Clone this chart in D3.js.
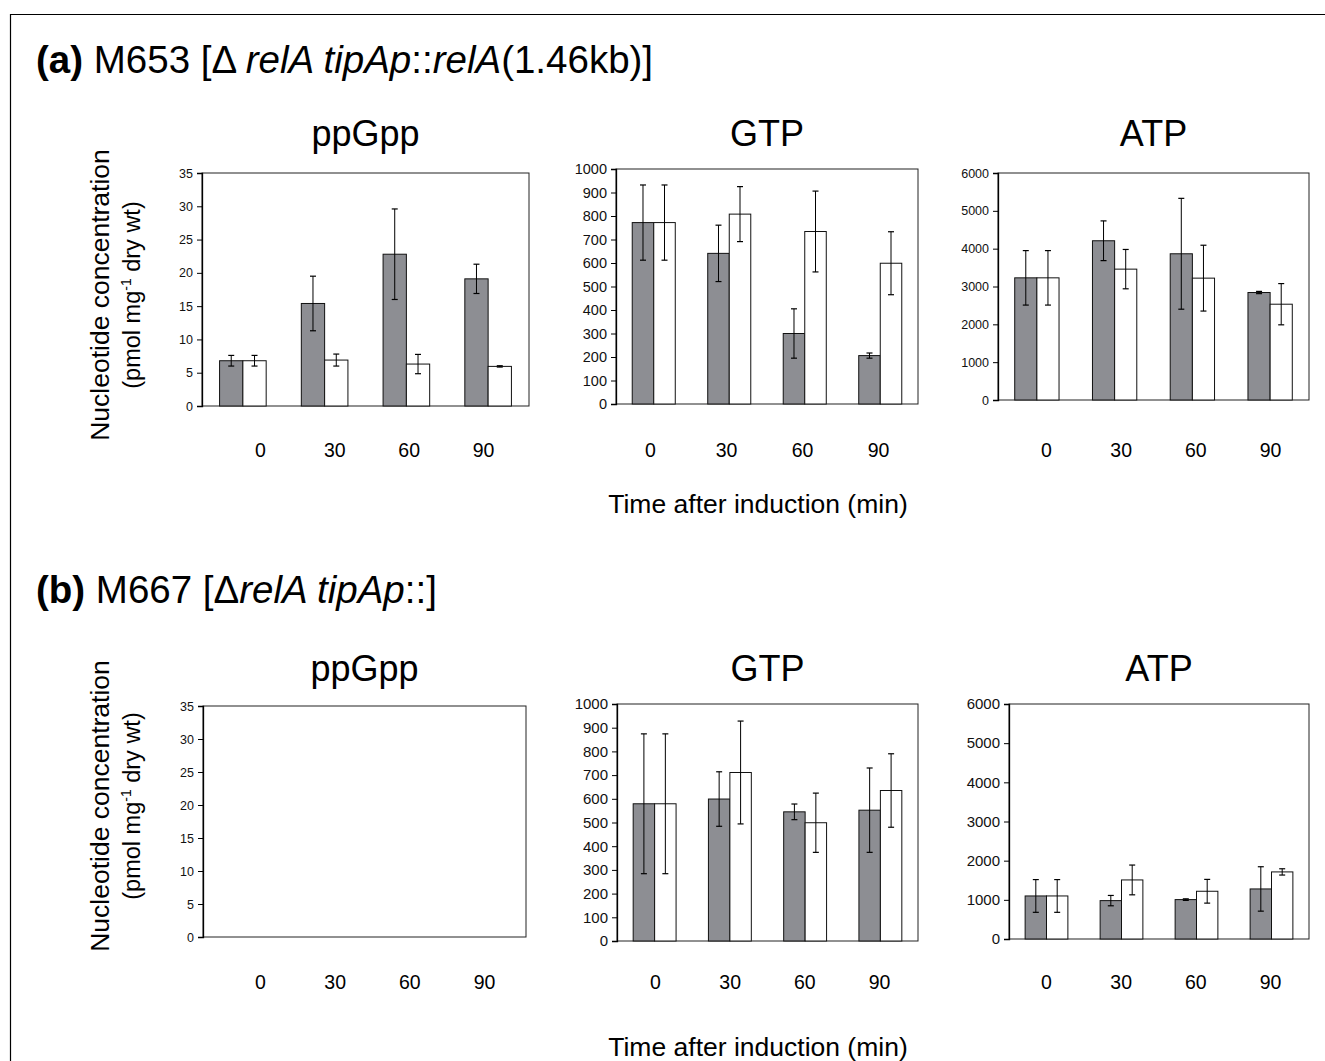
<!DOCTYPE html>
<html>
<head>
<meta charset="utf-8">
<script src="https://cdn.jsdelivr.net/npm/d3@7"></script>
<style>
  body { margin: 0; background: #fff; }
  svg { display: block; font-family: "Liberation Sans", Arial, sans-serif; }
</style>
</head>
<body>
<svg id="chart" width="1325" height="1061"></svg>
<script>
// time points (min)
const times = ['0', '30', '60', '90']

// (a) M653 - induced (grey) / control (white), with error bars
const ppGppA_induced = [6.8, 15.4, 22.8, 19.1]
const ppGppA_inducedErr = [0.8, 4.1, 6.8, 2.2]
const ppGppA_control = [6.8, 6.9, 6.3, 5.95]
const ppGppA_controlErr = [0.8, 0.9, 1.45, 0.1]

const gtpA_induced = [772, 641, 300, 206]
const gtpA_inducedErr = [160, 120, 105, 11]
const gtpA_control = [772, 808, 734, 599]
const gtpA_controlErr = [160, 117, 172, 134]

const atpA_induced = [3229, 4209, 3865, 2841]
const atpA_inducedErr = [720, 525, 1465, 30]
const atpA_control = [3229, 3459, 3221, 2532]
const atpA_controlErr = [720, 520, 870, 545]

// (b) M667 - no ppGpp detected
const ppGppB_induced = []
const ppGppB_inducedErr = []
const ppGppB_control = []
const ppGppB_controlErr = []

const gtpB_induced = [579, 599, 545, 552]
const gtpB_inducedErr = [295, 115, 33, 178]
const gtpB_control = [579, 711, 499, 635]
const gtpB_controlErr = [295, 217, 125, 155]

const atpB_induced = [1099, 980, 1006, 1278]
const atpB_inducedErr = [418, 132, 20, 567]
const atpB_control = [1099, 1508, 1219, 1713]
const atpB_controlErr = [418, 380, 303, 80]

// y tick values
const ppGppTicks = [0, 5, 10, 15, 20, 25, 30, 35]
const gtpTicks = [0, 100, 200, 300, 400, 500, 600, 700, 800, 900, 1000]
const atpTicks = [0, 1000, 2000, 3000, 4000, 5000, 6000]

const series = ['induced', 'control']
const barFill = { induced: '#8d8e93', control: '#ffffff' }

const svg = d3.select('#chart')
const font = '"Liberation Sans", Arial, sans-serif'

// outer frame (left + top)
svg.append('path')
    .attr('d', 'M10.5,1061 V14.5 H1325')
    .attr('fill', 'none')
    .attr('stroke', '#000')
    .attr('stroke-width', 1.2)

// headings
function heading (y, letter, parts) {
    const t = svg.append('text')
        .attr('x', 36)
        .attr('y', y)
        .attr('font-size', 38.5)
        .attr('fill', '#000')
    t.append('tspan').attr('font-weight', 'bold').text(letter)
    parts.forEach(p => {
        t.append('tspan')
            .attr('font-style', p.i ? 'italic' : 'normal')
            .text(p.s)
    })
}
heading(73, '(a)', [
    { s: ' M653 [\u0394 ' }, { s: 'relA tipAp', i: true }, { s: '::' },
    { s: 'relA', i: true }, { s: '(1.46kb)]' }
])
heading(603, '(b)', [
    { s: ' M667 [\u0394' }, { s: 'relA tipAp', i: true }, { s: '::]' }
])

// one bar chart panel
function panel (cfg) {
    const g = svg.append('g')
    const x = d3.scaleBand()
        .domain(times)
        .range([cfg.x0, cfg.x1])
        .paddingInner(0.43)
        .paddingOuter(0.215)
    const xs = d3.scaleBand()
        .domain(series)
        .range([0, x.bandwidth()])
    const y = d3.scaleLinear()
        .domain([0, d3.max(cfg.ticks)])
        .range([cfg.y1, cfg.y0])
    // category labels sit on their own row
    const xl = d3.scalePoint()
        .domain(times)
        .range(cfg.labelRange)

    // plot frame
    g.append('rect')
        .attr('x', cfg.x0)
        .attr('y', cfg.y0)
        .attr('width', cfg.x1 - cfg.x0)
        .attr('height', cfg.y1 - cfg.y0)
        .attr('fill', 'none')
        .attr('stroke', '#222')
        .attr('stroke-width', 1)

    // y axis
    const yAxis = g.append('g')
        .attr('transform', `translate(${cfg.x0},0)`)
        .call(d3.axisLeft(y).tickValues(cfg.ticks).tickFormat(d3.format('d'))
            .tickSize(5).tickPadding(4))
    yAxis.select('.domain').attr('stroke', '#000').attr('stroke-width', 1.3)
    yAxis.selectAll('.tick line').attr('stroke', '#000')
    yAxis.selectAll('text')
        .attr('font-family', font)
        .attr('font-size', cfg.yFont)
        .attr('fill', '#111')

    // x labels
    const xAxis = g.append('g')
        .attr('transform', `translate(0,${cfg.labelY})`)
        .call(d3.axisBottom(xl).tickSize(0).tickPadding(0))
    xAxis.select('.domain').remove()
    xAxis.selectAll('text')
        .attr('font-family', font)
        .attr('font-size', 19.5)
        .attr('fill', '#000')

    // bars
    const rows = []
    times.forEach((t, i) => {
        series.forEach(s => {
            const v = cfg.data[s][i]
            if (v === undefined) return
            rows.push({ t, s, v, e: cfg.err[s][i] })
        })
    })
    const groups = g.selectAll('.bar')
        .data(rows)
        .enter()
        .append('g')
        .attr('class', 'bar')
    groups.append('rect')
        .attr('x', d => x(d.t) + xs(d.s))
        .attr('y', d => y(d.v))
        .attr('width', xs.bandwidth())
        .attr('height', d => y(0) - y(d.v))
        .attr('fill', d => barFill[d.s])
        .attr('stroke', '#111')
        .attr('stroke-width', 1)

    // error bars
    const cx = d => x(d.t) + xs(d.s) + xs.bandwidth() / 2
    groups.append('line')
        .attr('x1', cx).attr('x2', cx)
        .attr('y1', d => y(d.v + d.e))
        .attr('y2', d => y(d.v - d.e))
        .attr('stroke', '#000')
        .attr('stroke-width', 1)
    ;['+', '-'].forEach(sign => {
        groups.append('line')
            .attr('x1', d => cx(d) - 3)
            .attr('x2', d => cx(d) + 3)
            .attr('y1', d => y(sign === '+' ? d.v + d.e : d.v - d.e))
            .attr('y2', d => y(sign === '+' ? d.v + d.e : d.v - d.e))
            .attr('stroke', '#000')
            .attr('stroke-width', 1.2)
    })

    // panel title
    g.append('text')
        .attr('x', (cfg.x0 + cfg.x1) / 2)
        .attr('y', cfg.titleY)
        .attr('text-anchor', 'middle')
        .attr('font-size', 36)
        .attr('fill', '#000')
        .text(cfg.title)
}

const panels = [
    { title: 'ppGpp', x0: 202, x1: 529, y0: 173, y1: 406, titleY: 146, labelY: 443, yFont: 12.5,
      labelRange: [260, 483], ticks: ppGppTicks,
      data: { induced: ppGppA_induced, control: ppGppA_control },
      err: { induced: ppGppA_inducedErr, control: ppGppA_controlErr } },
    { title: 'GTP', x0: 616, x1: 918, y0: 169, y1: 404, titleY: 146, labelY: 443, yFont: 14.5,
      labelRange: [650, 878], ticks: gtpTicks,
      data: { induced: gtpA_induced, control: gtpA_control },
      err: { induced: gtpA_inducedErr, control: gtpA_controlErr } },
    { title: 'ATP', x0: 998, x1: 1309, y0: 173, y1: 400, titleY: 146, labelY: 443, yFont: 12.5,
      labelRange: [1046, 1270], ticks: atpTicks,
      data: { induced: atpA_induced, control: atpA_control },
      err: { induced: atpA_inducedErr, control: atpA_controlErr } },
    { title: 'ppGpp', x0: 203, x1: 526, y0: 706, y1: 937, titleY: 681, labelY: 975, yFont: 12.5,
      labelRange: [260, 484], ticks: ppGppTicks,
      data: { induced: ppGppB_induced, control: ppGppB_control },
      err: { induced: ppGppB_inducedErr, control: ppGppB_controlErr } },
    { title: 'GTP', x0: 617, x1: 918, y0: 704, y1: 941, titleY: 681, labelY: 975, yFont: 15,
      labelRange: [655, 879], ticks: gtpTicks,
      data: { induced: gtpB_induced, control: gtpB_control },
      err: { induced: gtpB_inducedErr, control: gtpB_controlErr } },
    { title: 'ATP', x0: 1009, x1: 1309, y0: 704, y1: 939, titleY: 681, labelY: 975, yFont: 15,
      labelRange: [1046, 1270], ticks: atpTicks,
      data: { induced: atpB_induced, control: atpB_control },
      err: { induced: atpB_inducedErr, control: atpB_controlErr } }
]
panels.forEach(panel)

// y axis titles
function yTitle (cy) {
    const t = svg.append('g')
        .attr('transform', `translate(0,${cy}) rotate(-90)`)
    t.append('text')
        .attr('x', 0).attr('y', 109)
        .attr('text-anchor', 'middle')
        .attr('font-size', 26.5)
        .text('Nucleotide concentration')
    const t2 = t.append('text')
        .attr('x', 0).attr('y', 140)
        .attr('text-anchor', 'middle')
        .attr('font-size', 23.5)
    t2.append('tspan').text('(pmol mg')
    t2.append('tspan').attr('font-size', 14).attr('dy', -9).text('-1')
    t2.append('tspan').attr('dy', 9).text(' dry wt)')
}
yTitle(295)
yTitle(806)

// x axis titles
;[513, 1056].forEach(yy => {
    svg.append('text')
        .attr('x', 758)
        .attr('y', yy)
        .attr('text-anchor', 'middle')
        .attr('font-size', 26.5)
        .text('Time after induction (min)')
})
</script>
</body>
</html>
